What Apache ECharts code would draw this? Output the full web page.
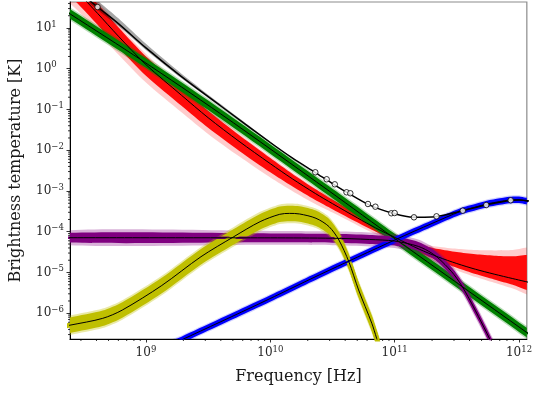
<!DOCTYPE html>
<html><head><meta charset="utf-8">
<script src="https://cdn.jsdelivr.net/npm/echarts@6/dist/echarts.min.js"></script>
<style>html,body{margin:0;padding:0;background:#fff}#c{width:535px;height:394px}</style>
</head><body><div id="c"></div>
<script>
// ---- data: frequencies in GHz, brightness temperatures in K ----
const obsFreq = [0.408, 23, 28.4, 33, 41, 44, 61, 70, 94, 100, 143, 217, 353, 545, 857];
const obsT = [32.7, 2.88e-3, 1.94e-3, 1.46e-3, 9.3e-4, 8.8e-4, 4.8e-4, 4.12e-4, 2.84e-4, 2.88e-4, 2.26e-4, 2.39e-4, 3.29e-4, 4.53e-4, 5.92e-4];

const totalFreq = [0.2, 0.245, 0.3, 0.408, 0.6, 1, 1.93, 4, 10, 15, 23, 31.6, 40, 63, 100, 141, 200, 316, 500, 794, 1000, 1300];
const totalT = [189, 115, 70, 32.7, 12.8, 3.24, 0.64, 0.122, 0.0155, 6.5e-3, 2.84e-3, 1.52e-3, 9.8e-4, 4.5e-4, 2.75e-4, 2.27e-4, 2.3e-4, 3.02e-4, 4.27e-4, 5.65e-4, 5.98e-4, 5.45e-4];
const totalUp = [0.22, 0.2, 0.18, 0.16, 0.13, 0.1, 0.07, 0.04, 0.02, 0.01, 0, 0, 0, 0, 0, 0, 0, 0, 0, 0, 0, 0];
const totalDown = [0.1, 0.09, 0.08, 0.07, 0.06, 0.05, 0.04, 0.03, 0.02, 0.01, 0, 0, 0, 0, 0, 0, 0, 0, 0, 0, 0, 0];

const redFreq = [0.2, 0.282, 0.408, 0.6, 1, 1.93, 3.16, 5.6, 10, 15, 23, 31.6, 50, 70, 102, 158, 224, 316, 447, 631, 891, 1300];
const redT = [224, 75.9, 22.9, 6.31, 1.26, 0.224, 0.063, 0.0166, 4.68e-3, 2.0e-3, 8.7e-4, 4.9e-4, 2.2e-4, 1.25e-4, 7.08e-5, 3.72e-5, 2.40e-5, 1.66e-5, 1.20e-5, 9.12e-6, 7.08e-6, 5.42e-6];
const redUp = [0.3, 0.3, 0.3, 0.28, 0.26, 0.24, 0.22, 0.2, 0.18, 0.16, 0.14, 0.13, 0.12, 0.11, 0.1, 0.15, 0.25, 0.36, 0.47, 0.58, 0.7, 0.85];
const redDown = [0.45, 0.45, 0.45, 0.45, 0.44, 0.42, 0.4, 0.37, 0.34, 0.3, 0.26, 0.22, 0.18, 0.15, 0.12, 0.13, 0.15, 0.17, 0.19, 0.21, 0.24, 0.28];

const greenFreq = [0.2, 0.2455, 0.93, 4.0, 29.7, 102.6, 1138, 1300];
const greenT = [33.1, 22.1, 1.594, 0.0776, 1.0e-3, 6.46e-5, 3.47e-7, 2.57e-7];

const yellowFreq = [0.2, 0.245, 0.449, 0.646, 1.34, 2.77, 5.09, 8.28, 11.9, 14.3, 17.2, 23.3, 29.7, 35.6, 42.8, 51.3, 65.5, 71.6, 78];
const yellowT = [4.6e-7, 5.1e-7, 7.5e-7, 1.2e-6, 4.79e-6, 2.44e-5, 7.57e-5, 1.77e-4, 2.68e-4, 2.82e-4, 2.73e-4, 2.14e-4, 1.33e-4, 6.27e-5, 1.84e-5, 3.72e-6, 5.66e-7, 2.43e-7, 1.0e-7];

const purpleFreq = [0.2, 10, 31.6, 63, 100, 155, 200, 240, 300, 363, 472, 581, 650];
const purpleT = [7.14e-5, 7.08e-5, 6.92e-5, 6.46e-5, 5.9e-5, 4.37e-5, 2.95e-5, 1.86e-5, 8.9e-6, 3.72e-6, 8.3e-7, 2.34e-7, 1.1e-7];

const blueFreq = [1.5, 1.93, 8.28, 24.7, 103, 200, 337, 450, 550, 700, 840, 1000, 1138, 1300];
const blueT = [1.55e-7, 2.21e-7, 1.75e-6, 8.69e-6, 6.53e-5, 1.6e-4, 3.14e-4, 4.04e-4, 4.8e-4, 5.5e-4, 6.01e-4, 6.1e-4, 5.69e-4, 5.25e-4];

const xTickExp = [9, 10, 11, 12];
const yTickExp = [-6, -5, -4, -3, -2, -1, 0, 1];
const minorMult = [2, 3, 4, 5, 6, 7, 8, 9];

// ---- helpers ----
const lg = Math.log10;
const GHZ = 1e9;
const xMinLog = lg(2.45e8), xMaxLog = lg(1.156e12);
const yMinLog = -6.632, yMaxLog = 1.638;
const FONT = 'DejaVu Serif';

function toPts(freq, T) { return freq.map((f, i) => [lg(f * GHZ), lg(T[i])]); }
function constArr(n, v) { return new Array(n).fill(v); }
function scaleArr(a, k) { return a.map(v => v * k); }

function band(freq, T, up, down, fill) {
  const rows = freq.map((f, i) => [lg(f * GHZ), lg(T[i]), up[i], down[i]]);
  return {
    type: 'custom', silent: true, animation: false,
    data: rows.map(r => [r[0], r[1]]),
    renderItem(params, api) {
      if (params.dataIndex !== 0) return null;
      const top = rows.map(r => api.coord([r[0], r[1] + r[2]]));
      const bot = rows.map(r => api.coord([r[0], r[1] - r[3]])).reverse();
      const cs = params.coordSys;
      return {
        type: 'polygon',
        shape: { points: top.concat(bot), smooth: 0.25 },
        style: { fill: fill, stroke: null },
        clipPath: { type: 'rect', shape: { x: cs.x, y: cs.y, width: cs.width, height: cs.height } }
      };
    }
  };
}
function line(freq, T, color, width) {
  return {
    type: 'line', data: toPts(freq, T), smooth: 0.3, symbol: 'none', silent: true,
    animation: false, lineStyle: { color: color, width: width }
  };
}

const xMinor = [], yMinor = [];
for (let n = 8; n <= 12; n++) minorMult.forEach(k => { const v = n + lg(k); if (v > xMinLog && v < xMaxLog) xMinor.push(v); });
for (let n = -7; n <= 1; n++) minorMult.forEach(k => { const v = n + lg(k); if (v > yMinLog && v < yMaxLog) yMinor.push(v); });

const series = [];
// red (fan)
series.push(band(redFreq, redT, redUp, redDown, 'rgba(255,0,0,0.2)'));
series.push(band(redFreq, redT, scaleArr(redUp, 0.78), scaleArr(redDown, 0.62), 'rgba(255,0,0,0.95)'));
// gray uncertainty of total
series.push(band(totalFreq, totalT, totalUp, totalDown, 'rgba(0,0,0,0.35)'));
// green
series.push(band(greenFreq, greenT, constArr(greenFreq.length, 0.16), constArr(greenFreq.length, 0.16), 'rgba(0,128,0,0.28)'));
series.push(band(greenFreq, greenT, constArr(greenFreq.length, 0.115), constArr(greenFreq.length, 0.115), 'rgba(0,128,0,1)'));
series.push(line(greenFreq, greenT, '#008000', 2));
// purple
series.push(band(purpleFreq, purpleT, constArr(purpleFreq.length, 0.17), constArr(purpleFreq.length, 0.17), 'rgba(128,0,128,0.3)'));
series.push(band(purpleFreq, purpleT, constArr(purpleFreq.length, 0.11), constArr(purpleFreq.length, 0.11), 'rgba(128,0,128,1)'));
series.push(line(purpleFreq, purpleT, '#800080', 2.5));
// yellow
series.push(band(yellowFreq, yellowT, constArr(yellowFreq.length, 0.24), constArr(yellowFreq.length, 0.24), 'rgba(191,191,0,0.35)'));
series.push(band(yellowFreq, yellowT, constArr(yellowFreq.length, 0.19), constArr(yellowFreq.length, 0.19), 'rgba(191,191,0,1)'));
series.push(line(yellowFreq, yellowT, '#bfbf00', 5));
// blue
series.push(band(blueFreq, blueT, constArr(blueFreq.length, 0.11), constArr(blueFreq.length, 0.11), 'rgba(0,0,255,0.18)'));
series.push(band(blueFreq, blueT, constArr(blueFreq.length, 0.08), constArr(blueFreq.length, 0.08), 'rgba(0,0,255,1)'));
series.push(line(blueFreq, blueT, '#0000ff', 2));
// black median lines
series.push(line(redFreq, redT, '#000', 1));
series.push(line(greenFreq, greenT, '#000', 1));
series.push(line(purpleFreq, purpleT, '#000', 1));
series.push(line(yellowFreq, yellowT, '#000', 1));
series.push(line(blueFreq, blueT, '#000', 1));
series.push(line(totalFreq, totalT, '#000', 1.5));
// observed points
series.push({
  type: 'scatter', data: toPts(obsFreq, obsT), symbol: 'circle', symbolSize: 5.5, silent: true, animation: false,
  itemStyle: { color: '#fff', borderColor: '#000', borderWidth: 1 }, z: 5
});
// minor ticks
series.push({
  type: 'custom', silent: true, animation: false, clip: false,
  data: xMinor.map(v => [v, yMinLog]),
  renderItem(params, api) {
    const p = api.coord([api.value(0), yMinLog]);
    return { type: 'line', shape: { x1: p[0], y1: p[1], x2: p[0], y2: p[1] + 2 }, style: { stroke: '#000', lineWidth: 0.8 } };
  }
});
series.push({
  type: 'custom', silent: true, animation: false, clip: false,
  data: yMinor.map(v => [xMinLog, v]),
  renderItem(params, api) {
    const p = api.coord([xMinLog, api.value(1)]);
    return { type: 'line', shape: { x1: p[0], y1: p[1], x2: p[0] - 2, y2: p[1] }, style: { stroke: '#000', lineWidth: 0.8 } };
  }
});

const rich = {
  b: { fontFamily: FONT, fontSize: 12, color: '#262626', lineHeight: 16, verticalAlign: 'middle' },
  s: { fontFamily: FONT, fontSize: 8.5, color: '#262626', lineHeight: 16, verticalAlign: 'top' }
};
const supFmt = v => '{b|10}{s|' + (v < 0 ? '\u2212' + Math.abs(Math.round(v)) : Math.round(v)) + '}';

const chart = echarts.init(document.getElementById('c'), null, { renderer: 'canvas' });
chart.setOption({
  animation: false,
  backgroundColor: '#fff',
  grid: { left: 67, right: 5, top: 2, bottom: 55, show: true, borderColor: '#8c8c8c', borderWidth: 1.2, backgroundColor: 'transparent' },
  xAxis: {
    type: 'value', min: xMinLog, max: xMaxLog, position: 'bottom',
    axisLine: { show: true, onZero: false, lineStyle: { color: '#000', width: 1 } },
    axisTick: { show: true, customValues: xTickExp, length: 3.5, lineStyle: { color: '#000', width: 0.8 } },
    axisLabel: { customValues: xTickExp, formatter: supFmt, rich: rich, margin: 6 },
    splitLine: { show: false },
    name: 'Frequency [Hz]', nameLocation: 'middle', nameGap: 30,
    nameTextStyle: { fontFamily: FONT, fontSize: 16, color: '#1a1a1a' }
  },
  yAxis: {
    type: 'value', min: yMinLog, max: yMaxLog, position: 'left',
    axisLine: { show: true, onZero: false, lineStyle: { color: '#000', width: 1 } },
    axisTick: { show: true, customValues: yTickExp, length: 3.5, lineStyle: { color: '#000', width: 0.8 } },
    axisLabel: { customValues: yTickExp, formatter: supFmt, rich: rich, margin: 34, align: 'left' },
    splitLine: { show: false },
    name: 'Brightness temperature [K]', nameLocation: 'middle', nameGap: 46, nameRotate: 90,
    nameTextStyle: { fontFamily: FONT, fontSize: 16, color: '#1a1a1a' }
  },
  series: series
});
</script>
</body></html>
